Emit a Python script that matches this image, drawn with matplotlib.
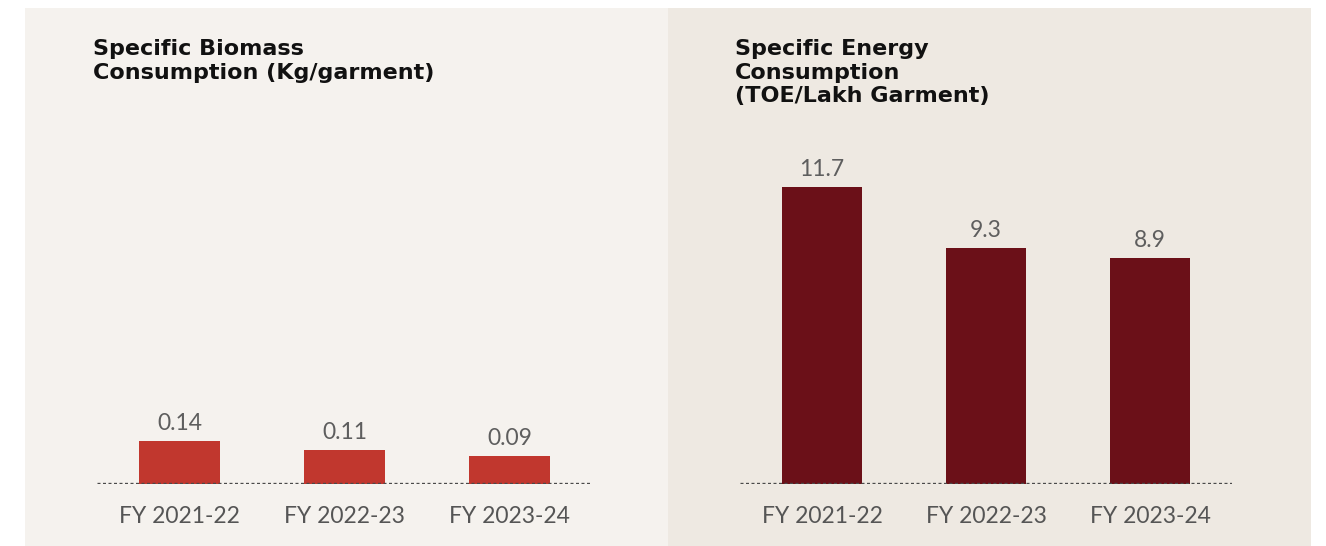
import matplotlib.pyplot as plt
from matplotlib.patches import Rectangle

# data
years = ["FY 2021-22", "FY 2022-23", "FY 2023-24"]
biomass = [0.14, 0.11, 0.09]
biomass_labels = ["0.14", "0.11", "0.09"]
energy = [11.7, 9.3, 8.9]
energy_labels = ["11.7", "9.3", "8.9"]

W, H = 1326, 546
fig = plt.figure(figsize=(W / 100, H / 100), dpi=100)
fig.patch.set_facecolor("white")

# panel backgrounds
fig.patches.append(Rectangle((25 / W, 0), 643 / W, 538 / H, transform=fig.transFigure,
                             facecolor="#f5f2ee", edgecolor="none", zorder=-1))
fig.patches.append(Rectangle((668 / W, 0), 643 / W, 538 / H, transform=fig.transFigure,
                             facecolor="#eee9e2", edgecolor="none", zorder=-1))

title_font = "DejaVu Sans"
num_font = "Lato"


def panel(x0, x1, vals, labels, color, ytop):
    ax = fig.add_axes([x0 / W, (H - 484) / H, (x1 - x0) / W, 344 / H])
    ax.set_facecolor("none")
    x = range(len(vals))
    ax.bar(x, vals, width=0.485, color=color, zorder=2)
    ax.axhline(0, color="#4a4a4a", lw=2.4, ls=(0, (0.9, 0.75)), zorder=3)
    for xi, v, lab in zip(x, vals, labels):
        ax.annotate(lab, (xi, v), xytext=(0, 5), textcoords="offset points",
                    ha="center", va="bottom", fontsize=16.5, color="#5e5e5e",
                    family=num_font)
    ax.set_xlim(-0.5, 2.5)
    ax.set_ylim(0, ytop)
    ax.set_xticks(list(x))
    ax.set_xticklabels(years, fontsize=16.5, color="#555555", family=num_font)
    ax.tick_params(axis="x", length=0, pad=16)
    ax.set_yticks([])
    for s in ax.spines.values():
        s.set_visible(False)
    return ax


panel(97, 592, biomass, biomass_labels, "#c1372e", 1.12)
panel(740, 1232, energy, energy_labels, "#6b1018", 13.55)

fig.text(93 / W, 1 - 39 / H, "Specific Biomass\nConsumption (Kg/garment)",
         ha="left", va="top", fontsize=16, fontweight="bold", color="#111111",
         family=title_font, linespacing=1.22)
fig.text(735 / W, 1 - 39 / H, "Specific Energy\nConsumption\n(TOE/Lakh Garment)",
         ha="left", va="top", fontsize=16, fontweight="bold", color="#111111",
         family=title_font, linespacing=1.22)

fig.savefig("out.png", dpi=100, facecolor=fig.get_facecolor())
